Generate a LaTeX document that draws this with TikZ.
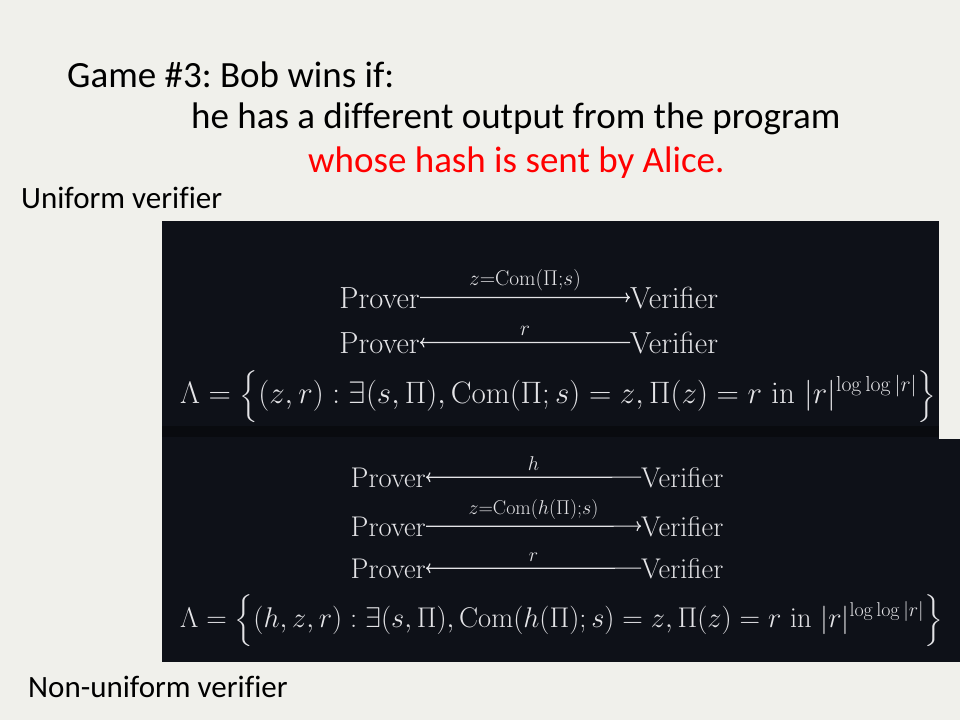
\RequirePackage{fix-cm}
\documentclass[tikz,border=0pt]{standalone}
\usepackage{amsmath}
\usepackage[no-math]{fontspec}
\usetikzlibrary{arrows.meta}
\newfontfamily\slidefont[Ligatures=NoCommon]{Carlito}
\definecolor{slidebg}{RGB}{240,240,235}
\definecolor{panelbg}{RGB}{14,17,24}
\definecolor{panelband}{RGB}{9,11,15}
\definecolor{inkwhite}{RGB}{228,228,231}
\definecolor{alicered}{RGB}{255,0,0}
\frenchspacing
% set braces a bit shorter than \Big
\newcommand{\setopen}{\mathopen{\scalebox{1}[0.87]{$\Bigl\{$}}}
\newcommand{\setclose}{\mathclose{\scalebox{1}[0.87]{$\Bigr\}$}}}

\begin{document}
\begin{tikzpicture}[
    x=1pt, y=-1pt,
    slidetext/.style={font=\slidefont\fontsize{37}{42}\selectfont, anchor=base west, inner sep=0pt},
    tag/.style={font=\slidefont\fontsize{31}{36}\selectfont, anchor=base west, inner sep=0pt},
    party/.style={text=inkwhite, font=\fontsize{30.5}{36}\selectfont, inner sep=0pt},
    partysmall/.style={party, font=\fontsize{28.5}{34}\selectfont},
    msg/.style={draw=inkwhite, line width=1.2pt, -{To[length=4.5pt,width=10pt]}},
    msgback/.style={draw=inkwhite, line width=1.2pt, {To[length=4.5pt,width=10pt]}-},
    lbl/.style={text=inkwhite, inner sep=0pt, above=6pt, midway},
    lang/.style={text=inkwhite, anchor=base west, inner sep=0pt}
]
    % slide background and the two screenshots
    \fill[slidebg] (0,0) rectangle (960,720);
    \fill[panelbg] (162,221) rectangle (939,439);
    \fill[panelbg] (162,439) rectangle (960,662);
    \fill[panelband] (162,426) rectangle (939,437);

    % title
    \node[slidetext] (title) at (67,87) {Game \#3: Bob wins if:};
    \node[slidetext] (cond) at (191,128) {he has a different output from the program};
    \node[slidetext, text=alicered] (hash) at (308,172) {whose hash is sent by Alice.};
    \node[tag] (unif) at (21,208) {Uniform verifier};
    \node[tag] (nonunif) at (28,697) {Non-uniform verifier};

    % uniform verifier
    \begin{scope}[every node/.append style={font=\fontsize{30.5}{36}\selectfont}]
    \node[party, anchor=base east] (p1) at (420,308) {$\mathrm{Prover}$};
    \node[party, anchor=base west] (v1) at (630,308) {$\mathrm{Verifier}$};
    \node[party, anchor=base east] (p2) at (420,353) {$\mathrm{Prover}$};
    \node[party, anchor=base west] (v2) at (630,353) {$\mathrm{Verifier}$};
    \draw[msg] (p1) -- node[lbl] {$\scriptstyle z=\mathrm{Com}(\Pi;s)$} (v1);
    \draw[msgback] (p2) -- node[lbl] {$\scriptstyle r$} (v2);
    \node[lang, font=\fontsize{31}{36}\selectfont] (lam1) at (180,403)
        {$\Lambda=\setopen(z,r):\exists(s,\Pi),\mathrm{Com}(\Pi;s)=z,\Pi(z)=r\ \mathrm{in}\ |r|^{\log\log|r|}\setclose$};
    \end{scope}

    % non-uniform verifier
    \begin{scope}[every node/.append style={font=\fontsize{28.5}{34}\selectfont}]
    \node[partysmall, anchor=base east] (p3) at (426,487) {$\mathrm{Prover}$};
    \node[partysmall, anchor=base west] (v3) at (641,487) {$\mathrm{Verifier}$};
    \node[partysmall, anchor=base east] (p4) at (426,536) {$\mathrm{Prover}$};
    \node[partysmall, anchor=base west] (v4) at (641,536) {$\mathrm{Verifier}$};
    \node[partysmall, anchor=base east] (p5) at (426,578) {$\mathrm{Prover}$};
    \node[partysmall, anchor=base west] (v5) at (641,578) {$\mathrm{Verifier}$};
    \draw[msgback] (p3) -- node[lbl] {$\scriptstyle h$} (v3);
    \draw[msg] (p4) -- node[lbl] {$\scriptstyle z=\mathrm{Com}(h(\Pi);s)$} (v4);
    \draw[msgback] (p5) -- node[lbl] {$\scriptstyle r$} (v5);
    \node[lang] (lam2) at (180,627)
        {$\Lambda=\setopen(h,z,r):\exists(s,\Pi),\mathrm{Com}(h(\Pi);s)=z,\Pi(z)=r\ \mathrm{in}\ |r|^{\log\log|r|}\setclose$};
    \end{scope}
\end{tikzpicture}
\end{document}
